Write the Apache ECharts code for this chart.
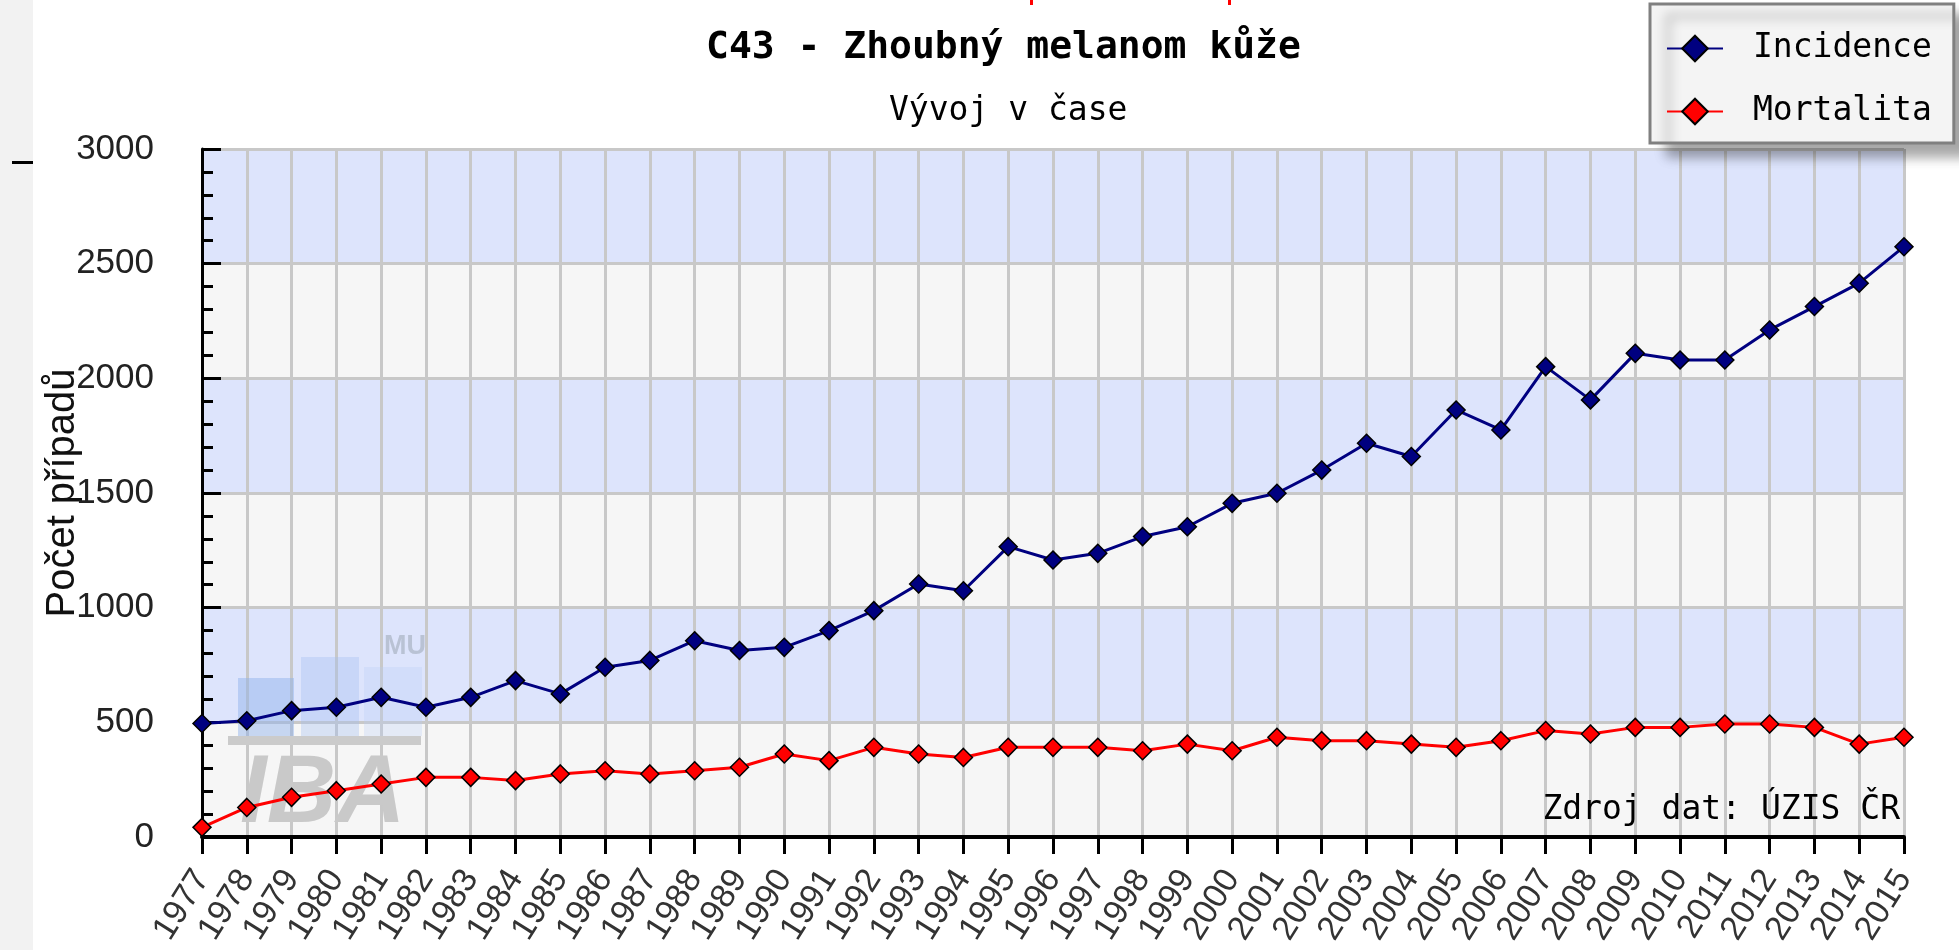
<!DOCTYPE html>
<html>
<head>
<meta charset="utf-8">
<script src="https://cdn.jsdelivr.net/npm/echarts@6/dist/echarts.min.js"></script>
<style>
html,body{margin:0;padding:0;background:#fff;}
#chart{width:1959px;height:950px;}
</style>
</head>
<body>
<div id="chart"></div>
<script>
// ---- data ----
const years = ['1977','1978','1979','1980','1981','1982','1983','1984','1985','1986','1987','1988','1989','1990','1991','1992','1993','1994','1995','1996','1997','1998','1999','2000','2001','2002','2003','2004','2005','2006','2007','2008','2009','2010','2011','2012','2013','2014','2015'];
const incidence = [495,507,551,566,609,566,609,682,624,740,770,856,813,827,900,987,1103,1074,1266,1208,1237,1310,1353,1455,1499,1600,1717,1659,1862,1775,2051,1906,2109,2080,2080,2211,2313,2415,2574];
const mortalita = [42,129,173,202,231,260,260,246,275,289,275,289,304,362,333,391,362,347,391,391,391,376,405,376,435,420,420,405,391,420,464,449,478,478,493,493,478,405,435];
const seriesNames = ['Incidence','Mortalita'];
const titleText = 'C43 - Zhoubný melanom kůže';
const subtitleText = 'Vývoj v čase';
const yAxisName = 'Počet případů';
const sourceText = 'Zdroj dat: ÚZIS ČR';

const mono = '"DejaVu Sans Mono", "Liberation Mono", monospace';
const sans = '"Liberation Sans", Arial, sans-serif';

const chart = echarts.init(document.getElementById('chart'), null, {renderer: 'canvas'});
chart.setOption({
  animation: false,
  backgroundColor: '#ffffff',
  title: [
    {text: titleText, left: 701, top: 24,
     textStyle: {fontFamily: mono, fontWeight: 'bold', fontSize: 38, color: '#000'}},
    {text: subtitleText, left: 884, top: 90,
     textStyle: {fontFamily: mono, fontWeight: 'normal', fontSize: 33, color: '#000'}}
  ],
  legend: {
    orient: 'vertical',
    left: 1650, top: 4,
    padding: [28, 22, 15, 16],
    itemGap: 30,
    itemWidth: 56,
    itemHeight: 32,
    backgroundColor: '#f4f4f4',
    borderColor: '#808080',
    borderWidth: 3,
    shadowColor: 'rgba(0,0,0,0.35)',
    shadowBlur: 12,
    shadowOffsetX: 18,
    shadowOffsetY: 12,
    textStyle: {fontFamily: mono, fontSize: 33, color: '#000', padding: [0,0,0,25]},
    data: seriesNames
  },
  grid: {left: 202, right: 55, top: 149, bottom: 113, containLabel: false},
  xAxis: {
    type: 'category',
    data: years,
    boundaryGap: false,
    axisLine: {show: true, lineStyle: {color: '#000', width: 4}},
    axisTick: {show: true, length: 17, lineStyle: {color: '#000', width: 3}},
    splitLine: {show: true, lineStyle: {color: '#c8c8c8', width: 3}},
    axisLabel: {rotate: 58, interval: 0, margin: 36, fontFamily: sans, fontSize: 34, color: '#333'}
  },
  yAxis: {
    type: 'value',
    min: 0, max: 3000, interval: 500,
    name: yAxisName,
    nameLocation: 'middle',
    nameGap: 119,
    nameMoveOverlap: false,
    nameTextStyle: {fontFamily: sans, fontSize: 40, color: '#111'},
    axisLine: {show: true, lineStyle: {color: '#000', width: 3}},
    axisTick: {show: true, inside: true, length: 19, lineStyle: {color: '#000', width: 3}},
    minorTick: {show: true, splitNumber: 5, length: 11, lineStyle: {color: '#000', width: 3}},
    splitLine: {show: true, lineStyle: {color: '#c8c8c8', width: 3}},
    splitArea: {show: true, areaStyle: {color: ['#f6f6f6', '#dde4fc']}},
    axisLabel: {margin: 48, fontFamily: sans, fontSize: 35, color: '#222',
                formatter: function (v) { return String(v); }}
  },
  graphic: [
    {type: 'rect', shape: {x: 0, y: 0, width: 33, height: 950}, style: {fill: '#f2f2f2'}, z: -10},
    {type: 'rect', shape: {x: 12, y: 161, width: 21, height: 3}, style: {fill: '#000'}},
    {type: 'rect', shape: {x: 1030, y: 0, width: 3, height: 5}, style: {fill: '#ff0000'}},
    {type: 'rect', shape: {x: 1228, y: 0, width: 3, height: 5}, style: {fill: '#ff0000'}},
    // IBA MU watermark
    {type: 'rect', z: 1, silent: true, shape: {x: 238, y: 678, width: 56, height: 58}, style: {fill: 'rgba(140,175,235,0.45)'}},
    {type: 'rect', z: 1, silent: true, shape: {x: 301, y: 657, width: 58, height: 79}, style: {fill: 'rgba(160,190,240,0.35)'}},
    {type: 'rect', z: 1, silent: true, shape: {x: 364, y: 667, width: 58, height: 69}, style: {fill: 'rgba(185,205,245,0.3)'}},
    {type: 'rect', z: 1, silent: true, shape: {x: 228, y: 736, width: 193, height: 9}, style: {fill: '#cbcbcb'}},
    {type: 'text', z: 1, silent: true, x: 240, y: 748,
     style: {text: 'IBA', font: 'italic bold 96px "Liberation Sans", Arial', fill: '#c9c9c9'}},
    {type: 'text', z: 1, silent: true, x: 384, y: 633,
     style: {text: 'MU', font: 'bold 27px "Liberation Sans", Arial', fill: '#b9c2d4'}},
    {type: 'text', z: 5, x: 1900, y: 827,
     style: {text: sourceText, font: '33px "DejaVu Sans Mono", "Liberation Mono", monospace', fill: '#000',
             align: 'right', verticalAlign: 'bottom'}}
  ],
  series: [
    {name: seriesNames[0], type: 'line', data: incidence,
     symbol: 'diamond', symbolSize: 18,
     lineStyle: {color: '#000080', width: 3},
     itemStyle: {color: '#000080', borderColor: '#000', borderWidth: 1.5},
     z: 3},
    {name: seriesNames[1], type: 'line', data: mortalita,
     symbol: 'diamond', symbolSize: 18,
     lineStyle: {color: '#ff0000', width: 3},
     itemStyle: {color: '#ff0000', borderColor: '#000', borderWidth: 1.5},
     z: 3}
  ]
});
</script>
</body>
</html>
